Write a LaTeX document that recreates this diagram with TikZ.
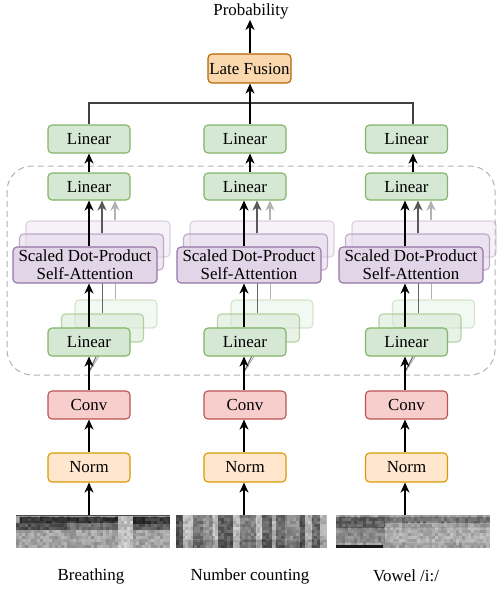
\documentclass[tikz,border=0pt]{standalone}
\usepackage{fontspec}
\setmainfont{Liberation Serif}
\usetikzlibrary{arrows.meta,calc}
\definecolor{fgreen}{HTML}{D5E8D4}\definecolor{dgreen}{HTML}{82B366}
\definecolor{fpurp}{HTML}{E1D5E7}\definecolor{dpurp}{HTML}{9673A6}
\definecolor{fred}{HTML}{F8CECC}\definecolor{dred}{HTML}{B85450}
\definecolor{fnorm}{HTML}{FFE6CC}\definecolor{dnorm}{HTML}{D79B00}
\definecolor{ffus}{HTML}{FAD7AC}\definecolor{dfus}{HTML}{B46504}
\newcommand\fs{\fontsize{16.9}{18}\selectfont}
\newcommand\specnoise[4]{%
  \foreach \i in {0,...,#3}{\foreach \j in {0,...,#4}{%
    \pgfmathtruncatemacro\v{random(0,100)}%
    \fill[black!\v, opacity=0.18] ({#1+3*\i},{#2+3*\j}) rectangle ++(3,3);}}}
\begin{document}
\begin{tikzpicture}[x=1pt,y=-1pt,
  box/.style={draw, rounded corners=4pt, line width=1.1pt, minimum height=28pt, inner sep=0pt, align=center, font=\fs},
  lin/.style={box, draw=dgreen, fill=fgreen, minimum width=82pt},
  att/.style={box, draw=dpurp, fill=fpurp, minimum width=144pt, minimum height=36pt},
  back2/.style={opacity=0.55},
  back3/.style={opacity=0.3},
  arr/.style={-{Stealth[length=10pt,width=9pt,inset=3pt]}, line width=1.4pt, black},
  garrD/.style={arr, black!65, line width=1.2pt},
  garrL/.style={arr, black!30, line width=1.2pt},
  glD/.style={black!60, line width=1pt},
  glL/.style={black!30, line width=1pt},
  conn/.style={black!75, line width=1.2pt},
  txt/.style={font=\fs, inner sep=1pt}]
\useasboundingbox (0,0) rectangle (498,591);

% dashed group
\draw[black!30, line width=1pt, dash pattern=on 6pt off 4pt, rounded corners=25pt] (7,166) rectangle (495,375);

% ---- spectrograms ----
\pgfmathsetseed{7}
% 1: breathing
\fill[black!40] (16,515) rectangle (170,548);
\fill[black!33] (16,530) rectangle (170,548);
\fill[black!85] (20,517) rectangle (118,523);
\fill[black!72] (16,523) rectangle (67,530);
\fill[black!58] (67,523) rectangle (118,530);
\fill[black!18] (118,515) rectangle (133,548);
\fill[black!85] (133,517) rectangle (170,524);
\fill[black!68] (133,524) rectangle (170,530);
\specnoise{16}{515}{50}{10}
\draw[black!70, line width=0.8pt] (16,515.4) -- (170,515.4);
% 2: number counting
\foreach \a/\b/\g in {176/183/70, 183/193/22, 193/203/55, 203/213/40, 213/218/20, 218/233/65, 233/240/22, 240/256/50, 256/262/20, 262/272/62, 272/276/25, 276/285/60, 285/300/45, 300/305/70, 305/312/25, 312/320/60, 320/327/25}
  {\fill[black!\g] (\a,515) rectangle (\b,548);}
\fill[black, opacity=0.15] (176,540) rectangle (327,548);
\specnoise{176}{515}{49}{10}
% 3: vowel
\fill[black!35] (336,515) rectangle (490,548);
\fill[black!55] (336,517) rectangle (490,523);
\fill[black!65] (336,517) rectangle (385,528);
\fill[black!45] (336,528) rectangle (385,543);
\fill[black!28] (385,528) rectangle (490,543);
\specnoise{336}{515}{50}{10}
\fill[black!90] (336,544.5) rectangle (383,547.5);

\node[inner sep=0pt, minimum width=154pt, minimum height=33pt] (s1) at (93,531.5) {};
\node[inner sep=0pt, minimum width=151pt, minimum height=33pt] (s2) at (251.5,531.5) {};
\node[inner sep=0pt, minimum width=154pt, minimum height=33pt] (s3) at (413,531.5) {};

% labels
\node[txt] (lab1) at (91,576) {Breathing};
\node[txt] (lab2) at (250,576) {Number counting};
\node[txt] (lab3) at (406,576) {Vowel /i:/};

% top
\node[box, draw=dfus, fill=ffus, minimum width=83pt, minimum height=29pt] (fus) at (249.5,68.5) {Late Fusion};
\node[txt] (prob) at (251,11) {Probability};
\coordinate (j) at (250,103);

\foreach \c/\cx/\lx/\ux/\ax in {1/89/89/89/85, 2/245/244/250/249, 3/406.5/405/413/411}{
  \coordinate (lo\c) at (\lx,0);
  \coordinate (up\c) at (\ux,0);
  \coordinate (ga\c) at ({\lx+13},0);
  \coordinate (gb\c) at ({\lx+26},0);
  \coordinate (d\c) at (\lx,372);
  % back boxes
  \node[att, back3] (ac\c) at ({\ax+13},239) {};
  \node[att, back2] (ab\c) at ({\ax+6.5},252) {};
  \node[lin, back3] (lc\c) at ({\cx+27},314) {};
  \node[lin, back2] (lb\c) at ({\cx+13.5},328) {};
  % gray connectors
  \draw[glL] (d\c) -- (lc\c.south);
  \draw[glD] (d\c) -- (lb\c.south);
  \draw[glL] (lc\c.north -| gb\c) -- (ac\c.south -| gb\c);
  \draw[glD] (lb\c.north -| ga\c) -- (ab\c.south -| ga\c);
  % front boxes
  \node[box, draw=dnorm, fill=fnorm, minimum width=82pt, minimum height=29pt] (n\c) at (\cx,467.5) {Norm};
  \node[box, draw=dred, fill=fred, minimum width=82pt] (c\c) at (\cx,405) {Conv};
  \node[lin] (la\c) at (\cx,342) {Linear};
  \node[att] (a\c) at (\ax,265) {Scaled Dot-Product\\Self-Attention};
  \node[lin, minimum height=27pt] (m\c) at (\cx,186.5) {Linear};
  \node[lin] (t\c) at (\cx,139) {Linear};
  % gray arrows
  \draw[garrL] (ac\c.north -| gb\c) -- (m\c.south -| gb\c);
  \draw[garrD] (ab\c.north -| ga\c) -- (m\c.south -| ga\c);
  % black arrows
  \draw[arr] (s\c.north -| lo\c) -- (n\c.south -| lo\c);
  \draw[arr] (n\c.north -| lo\c) -- (c\c.south -| lo\c);
  \draw[arr] (c\c.north -| lo\c) -- (la\c.south -| lo\c);
  \draw[arr] (la\c.north -| lo\c) -- (a\c.south -| lo\c);
  \draw[arr] (a\c.north -| lo\c) -- (m\c.south -| lo\c);
  \draw[arr] (m\c.north -| up\c) -- (t\c.south -| up\c);
}
\draw[conn] (t1.north -| up1) |- (j);
\draw[conn] (t3.north -| up3) |- (j);
\draw[arr] (t2.north -| up2) -- (fus.south -| up2);
\draw[arr] (fus.north -| up2) -- (prob.south -| up2);
\end{tikzpicture}
\end{document}
